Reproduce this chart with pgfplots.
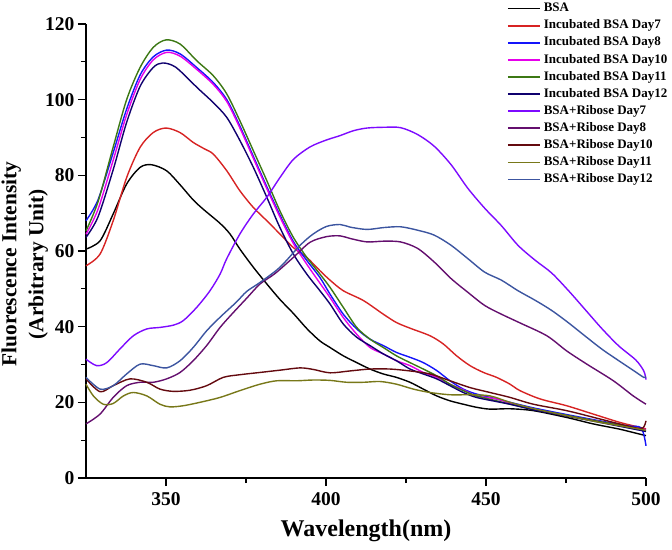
\documentclass[border=0pt]{standalone}
\usepackage{pgfplots}
\pgfplotsset{compat=1.18}
\usepackage{fontspec}
\setmainfont{Liberation Serif}
\definecolor{cBSA}{RGB}{0,0,0}
\definecolor{cIa}{RGB}{215,35,35}
\definecolor{cIb}{RGB}{20,20,250}
\definecolor{cIc}{RGB}{230,0,235}
\definecolor{cId}{RGB}{60,120,20}
\definecolor{cIe}{RGB}{15,0,110}
\definecolor{cRa}{RGB}{125,10,255}
\definecolor{cRb}{RGB}{100,15,110}
\definecolor{cRc}{RGB}{100,10,15}
\definecolor{cRd}{RGB}{120,120,25}
\definecolor{cRe}{RGB}{60,85,160}
\begin{document}
\begin{tikzpicture}
\path[use as bounding box] (-86pt,-71pt) rectangle (586pt,478pt);
\begin{axis}[
  scale only axis, width=560pt, height=454pt,
  xmin=325, xmax=500, ymin=0, ymax=120,
  axis lines*=left,
  axis line style={line width=1.3pt},
  tick align=outside,
  major tick length=8pt, minor tick length=5pt,
  every tick/.style={black, line width=1.3pt},
  xtick={350,400,450,500}, minor xtick={375,425,475},
  ytick={0,20,...,120}, minor ytick={10,30,...,110},
  /pgf/number format/assume math mode=true,
  ticklabel style={font=\bfseries\fontsize{19.5}{20}\selectfont},
  xticklabel style={yshift=-3pt},
  xlabel={Wavelength(nm)},
  ylabel={Fluorescence Intensity\\(Arbitrary Unit)},
  every axis x label/.style={at={(axis description cs:0.5,-0.117)}, anchor=center, font=\bfseries\fontsize{24}{24}\selectfont},
  every axis y label/.style={at={(axis description cs:-0.1095,0.471)}, rotate=90, anchor=center, align=center, font=\bfseries\fontsize{21.4}{27}\selectfont},
  legend style={at={(axis description cs:0.7518,1.0529)}, anchor=north west, draw=none, fill=none,
     inner sep=0pt, outer sep=0pt,
     font=\bfseries\fontsize{13}{14}\selectfont, row sep=0pt, column sep=1pt,
     nodes={inner sep=2pt, text height=9.8pt, text depth=3.3pt}},
  legend cell align=left,
  legend image code/.code={\draw[#1, line width=1.8pt] (0pt,0pt) -- (32pt,0pt);},
  every axis plot/.append style={line width=1.4pt, smooth, tension=0.5, mark=none},
  clip=false,
]
\addplot[cBSA] coordinates {(325,60.5)(329.4,62.7)(333.5,69.8)(337.7,77.7)(341.9,82.1)(345.5,82.8)(350.2,81.2)(354.4,77.5)(358.5,73.5)(361.7,71)(366.9,67.3)(370,64.5)(373.1,60.5)(377.3,55.7)(381.5,51.3)(385.6,47.2)(389.8,43.5)(394,39.5)(398,36.3)(401.25,34.5)(405.4,32.3)(409.6,30.5)(413.75,28.8)(417.9,27.5)(422,26.6)(426.25,25.3)(430.4,23.5)(434.6,21.7)(438.75,20.4)(442.9,19.5)(447,18.7)(451.25,18.2)(457.5,18.3)(464.8,17.8)(475.2,16)(483.5,14.3)(491.8,12.9)(498,11.6)(500,11.2)};
\addlegendentry{BSA}
\addplot[cIa] coordinates {(325,56.1)(329.4,59.2)(333.5,68)(337.7,79.4)(341.9,87.4)(346,91.3)(350,92.5)(354.4,91.3)(358.5,88.7)(362,87)(364.8,85.6)(369,81.2)(373.1,75.9)(377.3,71.5)(381.5,68)(385.6,64.5)(389.8,60.9)(394,58.3)(398.1,54.8)(401.25,52.3)(405.4,49.5)(411.7,46.9)(417.9,43.3)(422,41.1)(426.25,39.6)(432.5,37.6)(436.7,35.4)(440.8,32.3)(445,29.7)(449.2,27.9)(453.3,26.6)(457.5,24.8)(460.6,23.1)(466.9,20.9)(475.2,19.1)(483.5,16.9)(491.8,14.7)(498,13.4)(500,13)};
\addlegendentry{Incubated BSA Day7}
\addplot[cIb] coordinates {(325,68)(328.75,73.5)(333.5,86)(337.7,97.5)(341.9,106.5)(346,111.3)(350.2,113.1)(354.4,112.1)(359.6,108.5)(364.8,104.5)(369,100)(373.1,93)(377.3,85)(381.5,77)(385.6,69.5)(389.8,62.5)(394,57.5)(398.1,53)(401.25,48.6)(405.4,43.3)(409.6,39.4)(413.75,36.7)(417.9,35)(422,33.2)(426.25,31.9)(430.4,30.5)(434.6,28.4)(438.75,25.7)(442.9,23.5)(447,22.2)(453.3,20.9)(457.5,20)(465,18.5)(475,16.8)(485,15.2)(494,13.8)(498.5,13.2)(500,8.5)};
\addlegendentry{Incubated BSA Day8}
\addplot[cIc] coordinates {(325,64.4)(328.75,71)(333.5,84)(337.7,96)(341.9,105.3)(346,110.5)(350.2,112.5)(354.4,111.5)(359.6,108)(364.8,104)(369,99.5)(373.1,92.5)(377.3,84.5)(381.5,76.5)(385.6,69)(389.8,62)(394,56.5)(398.1,51.5)(401.25,47.7)(405.4,42.4)(409.6,38)(413.75,34.5)(417.9,32.8)(422,31)(426.25,29.7)(430.4,27.9)(434.6,26.6)(438.75,24.8)(442.9,23.3)(447,21.7)(453.3,20.9)(457.5,19.8)(465,18.2)(475,16.5)(485,15)(494,13.5)(500,12.8)};
\addlegendentry{Incubated BSA Day10}
\addplot[cId] coordinates {(325,65.3)(328.75,73)(333.5,87.5)(337.7,100)(341.9,108.5)(346,113.8)(350,115.8)(354.4,114.7)(359.6,110.3)(364.8,106.3)(369,101.5)(373.1,94.4)(377.3,86.5)(381.5,78.6)(385.6,70.6)(389.8,63.6)(394,58.3)(398.1,53.9)(401.25,50.4)(405.4,45.1)(409.6,39.8)(413.75,36.7)(417.9,34.5)(422,32.3)(426.25,30.5)(430.4,28.8)(434.6,27)(438.75,24.8)(442.9,23.1)(447,21.7)(453.3,20.4)(457.5,19.5)(465,18.2)(475,16.6)(485,15)(494,13.6)(500,12.4)};
\addlegendentry{Incubated BSA Day11}
\addplot[cIe] coordinates {(325,63.6)(328.75,69)(333.5,81.5)(337.7,94)(341.9,103.5)(346,108.5)(349,109.7)(353,108.6)(358.5,104.2)(360.6,102.5)(364.8,99.2)(369,95.3)(373.1,89.2)(377.3,82.1)(381.5,74.2)(385.6,66.2)(389.8,59.2)(394,53.9)(398.1,49.5)(401.25,46)(405.4,40.7)(409.6,37.2)(413.75,35)(417.9,32.8)(422,31)(426.25,28.8)(430.4,27.5)(434.6,26.2)(438.75,24.4)(442.9,22.6)(447,21.3)(453.3,20.2)(457.5,19.5)(465,18)(475,16.4)(485,14.8)(494,13.3)(500,12.3)};
\addlegendentry{Incubated BSA Day12}
\addplot[cRa] coordinates {(325,31.4)(328.3,29.7)(331.5,30.5)(335.6,34.1)(339.8,37.6)(344,39.4)(348.1,39.8)(352.3,40.4)(355.4,41.6)(359.6,45.1)(363.75,49.5)(366.9,53.9)(369,58)(373.1,64.5)(377.3,69.8)(381.5,74.2)(385.6,79.4)(389.8,84.2)(395,87.5)(400,89.3)(404.4,90.5)(408.6,91.8)(412.8,92.5)(418,92.7)(423.3,92.6)(428.6,90.8)(433.8,87.7)(439.1,82.8)(444.3,76.6)(449.6,71.3)(454.8,66.7)(460,61.5)(465.3,57.6)(470.5,54.2)(475.8,49.5)(481,44.5)(486.3,39.4)(491.5,34.9)(496.8,31.2)(499.3,28.3)(500,26)};
\addlegendentry{BSA+Ribose Day7}
\addplot[cRb] coordinates {(325,14.3)(329.4,16.9)(333.5,21.3)(337.7,24.4)(341.9,25.3)(346,25.3)(350.2,26.2)(354.4,27.9)(358.5,31)(362.7,35)(366.9,39.8)(371,43.7)(375.2,47.5)(379.4,51.3)(384,54)(389.8,58.3)(395,62.3)(400.2,63.8)(404.4,64)(407.6,63.3)(412.8,62.4)(418.1,62.6)(423.3,62.4)(428.6,60.7)(433.8,57.1)(439.1,52.7)(444.3,49.1)(449.6,45.6)(454.8,43.3)(460.6,41)(469,37.6)(475.2,33.6)(481.5,30.1)(489.8,25.7)(496,21.7)(500,19.5)};
\addlegendentry{BSA+Ribose Day8}
\addplot[cRc] coordinates {(325,26.2)(329.4,22.8)(333.5,24.4)(338.75,26.2)(344,25.3)(348.1,23.5)(352.3,22.9)(357.5,23.2)(362.7,24.4)(367.9,26.6)(373.1,27.3)(379.4,27.9)(385.6,28.5)(391.9,29.1)(396,28.7)(401.25,27.8)(407.5,28.3)(413.75,28.8)(420,28.8)(426.25,28.3)(432.5,27.5)(438.75,25.7)(445,23.9)(451.25,22.6)(457.5,21.3)(464.8,19.5)(475.2,17.8)(485.6,15.6)(496,13.4)(499,13.2)(500,15.1)};
\addlegendentry{BSA+Ribose Day10}
\addplot[cRd] coordinates {(325,24.8)(327.3,21.7)(330.4,19.5)(333.5,19.7)(336.7,21.7)(339.8,22.6)(344,21.7)(348.1,19.5)(351.25,18.8)(355.4,19.1)(360.6,20)(366.9,21.3)(373.1,23.1)(379.4,24.8)(384.6,25.7)(390.8,25.7)(396,25.9)(401.25,25.8)(406.5,25.3)(411.7,25.3)(416.9,25.5)(422,24.8)(427.3,23.5)(432.5,22.6)(438.75,22)(445,22)(451.25,21.7)(457.5,20)(465,18.3)(475,16.5)(485,14.8)(494,13.5)(500,12.6)};
\addlegendentry{BSA+Ribose Day11}
\addplot[cRe] coordinates {(325,26.6)(329.4,23.5)(333.5,24.4)(337.7,27.5)(341.9,30.1)(346,29.7)(350.2,29.1)(354.4,31)(358.5,34.5)(362.7,38.9)(366.9,42.5)(372,46.5)(375.2,49.3)(379.4,51.7)(385.6,55.7)(391.9,61.5)(396,64.5)(400.2,66.5)(404.4,67)(407.6,66.3)(412.8,65.7)(418.1,66.2)(423.3,66.4)(428.6,65.5)(433.8,64.2)(439.1,61.5)(444.3,58)(449.6,54.4)(454.8,52.3)(460,49.5)(465.3,47)(470.5,44.3)(475.8,41)(481,37.5)(486.3,34)(491.5,31)(496.8,28)(499.3,26.6)(500,26.8)};
\addlegendentry{BSA+Ribose Day12}
\end{axis}
\end{tikzpicture}
\end{document}
